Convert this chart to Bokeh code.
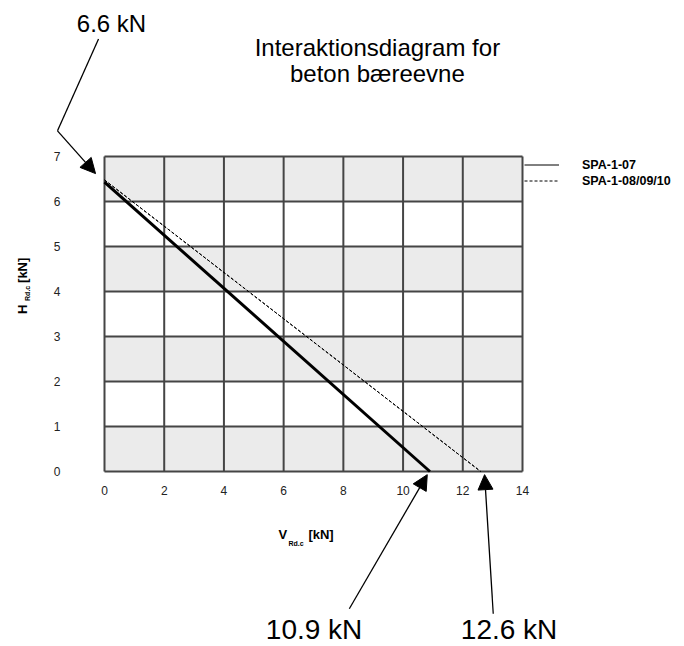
import math
from bokeh.plotting import figure
from bokeh.models import (Range1d, FixedTicker, Label, Arrow, NormalHead, Legend, LegendItem,
                          LinearAxis)
from bokeh.embed import file_html
from bokeh.resources import INLINE

# ---- data ----
x_ticks = [0, 2, 4, 6, 8, 10, 12, 14]
y_ticks = [0, 1, 2, 3, 4, 5, 6, 7]
band_bottoms = [0, 2, 4, 6]
band_tops = [1, 3, 5, 7]

series_names = ["SPA-1-07", "SPA-1-08/09/10"]
spa07_v = [0.0, 10.9]
spa07_h = [6.43, 0.0]
spa08_v = [0.0, 12.6]
spa08_h = [6.48, 0.0]

h_label_value = 6.6
v_label_values = [10.9, 12.6]

FONT = "Liberation Sans"
GRID = "#454545"

W, H = 684, 646
PX_X = 418 / 14.0
PX_Y = 315 / 7.0
X0, Y0 = 104, 471  # pixel position of data origin

p = figure(width=W, height=H, output_backend="svg", toolbar_location=None,
           x_range=Range1d(-X0 / PX_X, (W - X0) / PX_X),
           y_range=Range1d(-(H - Y0) / PX_Y, Y0 / PX_Y),
           x_axis_location=None, y_axis_location=None,
           min_border=0)
p.background_fill_color = "white"
p.border_fill_color = "white"
p.outline_line_color = None
p.xgrid.visible = False
p.ygrid.visible = False

xmin, xmax = x_ticks[0], x_ticks[-1]
ymin, ymax = y_ticks[0], y_ticks[-1]

# bands
p.quad(left=xmin, right=xmax, bottom=band_bottoms, top=band_tops,
       fill_color="#ebebeb", line_color=None)

# grid lines
p.segment(x0=x_ticks, y0=[ymin] * len(x_ticks), x1=x_ticks, y1=[ymax] * len(x_ticks),
          line_color=GRID, line_width=2)
p.segment(x0=[xmin] * len(y_ticks), y0=y_ticks, x1=[xmax] * len(y_ticks), y1=y_ticks,
          line_color=GRID, line_width=2)

# axes (tick labels only), fixed at the data origin
xaxis = LinearAxis(fixed_location=0, ticker=FixedTicker(ticks=x_ticks))
yaxis = LinearAxis(fixed_location=0, ticker=FixedTicker(ticks=y_ticks))
for ax in (xaxis, yaxis):
    ax.axis_line_color = None
    ax.major_tick_line_color = None
    ax.minor_tick_line_color = None
    ax.major_label_text_font = FONT
    ax.major_label_text_font_size = "12px"
    ax.major_label_text_color = "#222222"
xaxis.major_label_standoff = 8
yaxis.major_label_standoff = 38
p.add_layout(xaxis, "below")
p.add_layout(yaxis, "left")

# thin versions of the series (used as legend glyphs; hidden under the main lines)
l1 = p.line(spa07_v, spa07_h, line_color="black", line_width=1)
l2 = p.line(spa08_v, spa08_h, line_color="black", line_width=1, line_dash="3 2")

# series
r1 = p.line(spa07_v, spa07_h, line_color="black", line_width=3)
r2 = p.line(spa08_v, spa08_h, line_color="black", line_width=1, line_dash="3 2")

legend = Legend(items=[LegendItem(label=series_names[0], renderers=[l1]),
                       LegendItem(label=series_names[1], renderers=[l2])],
                location=(524, 458), border_line_color=None, background_fill_alpha=0,
                label_text_font=FONT, label_text_font_style="bold", label_text_color="black",
                label_text_font_size="12.5px", glyph_width=35, glyph_height=15,
                label_height=15, label_standoff=23, spacing=1, padding=0, margin=0)
p.add_layout(legend)

# title
for txt, yy in (("Interaktionsdiagram for", 9.42), ("beton bæreevne", 8.84)):
    p.add_layout(Label(x=9.14, y=yy, text=txt, text_align="center", text_color="black",
                       text_baseline="middle", text_font=FONT, text_font_size="24px"))

# axis labels (with subscripts)
def lab(x, y, t, size, angle=0.0):
    p.add_layout(Label(x=x, y=y, text=t, text_font=FONT, text_font_style="bold",
                       text_color="black", text_font_size=size, text_align="left",
                       text_baseline="alphabetic", angle=angle))

lab(5.83, -1.39, "V", "13px")
lab(6.16, -1.60, "Rd.c", "7px")
lab(6.83, -1.39, "[kN]", "13px")
lab(-2.75, 3.50, "H", "13px", math.pi / 2)
lab(-2.58, 3.79, "Rd.c", "7px", math.pi / 2)
lab(-2.75, 4.19, "[kN]", "13px", math.pi / 2)

# value annotations
def big(x, y, t, size):
    p.add_layout(Label(x=x, y=y, text=t, text_align="center", text_baseline="middle",
                       text_color="black", text_font=FONT, text_font_size=size))

big(0.234, 9.95, f"{h_label_value} kN", "24px")
big(7.02, -3.52, f"{v_label_values[0]} kN", "28px")
big(13.55, -3.52, f"{v_label_values[1]} kN", "28px")

def head():
    return NormalHead(size=15, fill_color="black", line_color="black", line_width=1)

p.add_layout(Arrow(x_start=-0.20, y_start=9.61, x_end=-1.574, y_end=7.57,
                   end=None, line_width=1.3, line_color="black"))
p.add_layout(Arrow(x_start=-1.574, y_start=7.57, x_end=-0.30, y_end=h_label_value + 0.02,
                   end=head(), line_width=1.3, line_color="black"))
p.add_layout(Arrow(x_start=8.20, y_start=-3.05, x_end=v_label_values[0] - 0.09, y_end=-0.07,
                   end=head(), line_width=1.3, line_color="black"))
p.add_layout(Arrow(x_start=13.02, y_start=-3.16, x_end=v_label_values[1] + 0.13, y_end=-0.07,
                   end=head(), line_width=1.3, line_color="black"))

open("out.html", "w").write(file_html(p, INLINE))
